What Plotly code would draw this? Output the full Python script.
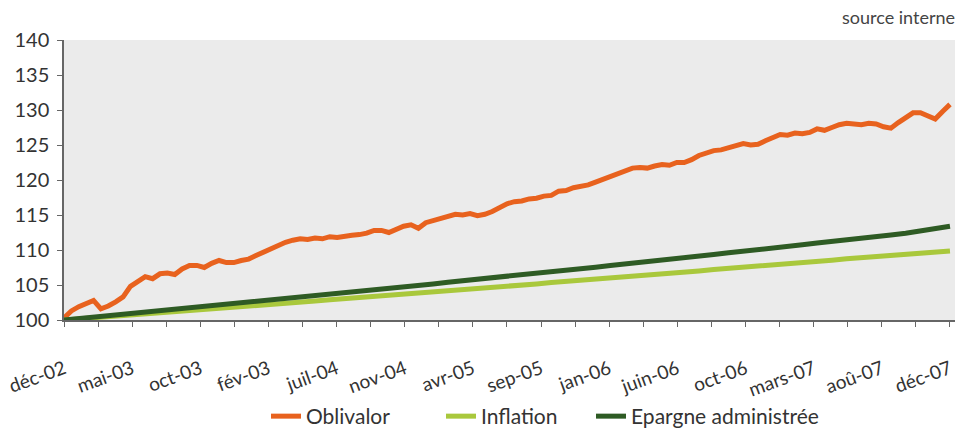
import plotly.graph_objects as go

# Tick labels (as printed on the original chart)
tick_labels = ["déc-02", "mai-03", "oct-03", "fév-03", "juil-04", "nov-04", "avr-05",
               "sep-05", "jan-06", "juin-06", "oct-06", "mars-07", "aoû-07", "déc-07"]

# Oblivalor, half-month readings from déc-02 (index 0) to déc-07 (index 120)
oblivalor = [
    100.3, 101.3, 101.9, 102.3, 102.8, 101.6, 102.0, 102.6, 103.3, 104.8,
    105.5, 106.2, 105.9, 106.6, 106.7, 106.5, 107.3, 107.8, 107.8, 107.5,
    108.1, 108.5, 108.2, 108.2, 108.5, 108.7, 109.2, 109.7, 110.2, 110.7,
    111.1, 111.4, 111.6, 111.5, 111.7, 111.6, 111.9, 111.8, 112.0, 112.1,
    112.2, 112.4, 112.8, 112.8, 112.5, 113.0, 113.4, 113.6, 113.1, 113.9,
    114.2, 114.4, 114.7, 115.1, 115.0, 115.2, 114.9, 115.1, 115.5, 116.0,
    116.6, 116.9, 117.0, 117.3, 117.4, 117.7, 117.8, 118.4, 118.5, 118.9,
    119.1, 119.3, 119.7, 120.1, 120.4, 120.8, 121.3, 121.7, 121.8, 121.7,
    122.0, 122.2, 122.1, 122.5, 122.5, 122.9, 123.5, 123.9, 124.2, 124.3,
    124.6, 124.9, 125.2, 125.0, 125.1, 125.6, 126.1, 126.5, 126.4, 126.7,
    126.6, 126.8, 127.3, 127.1, 127.5, 127.9, 128.1, 128.0, 127.9, 128.1,
    128.0, 127.6, 127.4, 128.2, 128.9, 129.6, 129.6, 129.2, 128.7, 129.8,
    130.8,
]

# Inflation, monthly readings (index 0 = déc-02, 60 = déc-07)
inflation = [
    100.0, 100.15, 100.3, 100.5, 100.65, 100.8, 100.95, 101.1, 101.3, 101.45,
    101.6, 101.75, 101.9, 102.1, 102.25, 102.4, 102.55, 102.7, 102.9, 103.05,
    103.2, 103.35, 103.5, 103.7, 103.85, 104.0, 104.15, 104.35, 104.5, 104.65,
    104.85, 105.0, 105.15, 105.35, 105.5, 105.65, 105.85, 106.0, 106.15, 106.35,
    106.5, 106.7, 106.85, 107.0, 107.2, 107.35, 107.55, 107.7, 107.85, 108.05,
    108.2, 108.4, 108.55, 108.75, 108.9, 109.05, 109.25, 109.4, 109.55, 109.7,
    109.85,
]

# Epargne administrée, monthly readings
epargne = [
    100.0, 100.2, 100.4, 100.6, 100.8, 101.0, 101.2, 101.4, 101.6, 101.8,
    102.05, 102.25, 102.45, 102.65, 102.85, 103.05, 103.25, 103.5, 103.7, 103.9,
    104.1, 104.3, 104.55, 104.75, 104.95, 105.15, 105.4, 105.6, 105.8, 106.05,
    106.25, 106.45, 106.7, 106.9, 107.1, 107.35, 107.55, 107.8, 108.0, 108.25,
    108.45, 108.7, 108.9, 109.15, 109.35, 109.6, 109.8, 110.05, 110.3, 110.5,
    110.75, 111.0, 111.2, 111.45, 111.7, 111.9, 112.15, 112.4, 112.7, 113.0,
    113.4,
]

n_months = 60
x_obl = [k * 0.5 for k in range(len(oblivalor))]
x_month = list(range(len(inflation)))

# ticks: 27 marks over 60 months, labels on every other mark
n_ticks = 2 * (len(tick_labels) - 1)
tickvals = [i * n_months / n_ticks for i in range(n_ticks + 1)]
ticktext = []
for i in range(n_ticks + 1):
    ticktext.append(tick_labels[i // 2] if i % 2 == 0 else "")

FONT = "Lato, 'Open Sans', sans-serif"

fig = go.Figure()
fig.add_trace(go.Scatter(x=x_obl, y=oblivalor, mode="lines", name="Oblivalor",
                         line=dict(color="#E8621E", width=5), legend="legend"))
fig.add_trace(go.Scatter(x=x_month, y=inflation, mode="lines", name="Inflation",
                         line=dict(color="#A9C83C", width=5), legend="legend2"))
fig.add_trace(go.Scatter(x=x_month, y=epargne, mode="lines", name="Epargne administrée",
                         line=dict(color="#2E5B24", width=5), legend="legend3"))


def leg(xpos):
    return dict(orientation="h", x=xpos, xanchor="left",
                yref="container", y=0.0, yanchor="bottom",
                font=dict(size=21, color="#333333"), bgcolor="rgba(0,0,0,0)")


fig.update_layout(
    width=964, height=437,
    margin=dict(l=64, r=9, t=40, b=117),
    paper_bgcolor="white",
    plot_bgcolor="#EBEBEB",
    font=dict(family=FONT, color="#333333", size=16),
    showlegend=True,
    legend=leg(0.2267),
    legend2=leg(0.4231),
    legend3=leg(0.5915),
    xaxis=dict(range=[0, 60.34], tickmode="array", tickvals=tickvals, ticktext=ticktext,
               tickangle=-20, showgrid=False, zeroline=False, showline=True,
               linecolor="#666666", linewidth=1.5, ticks="outside", ticklen=5,
               tickcolor="#666666", tickfont=dict(size=19, color="#333333"),
               automargin=False, ticklabelstandoff=24),
    yaxis=dict(range=[100, 140], tickmode="linear", tick0=100, dtick=5,
               showgrid=False, zeroline=False, showline=True, linecolor="#666666",
               linewidth=1.5, ticks="outside", ticklen=5, tickcolor="#666666",
               tickfont=dict(size=20, color="#333333"), automargin=False,
               ticklabelstandoff=4),
    annotations=[dict(text="source interne", xref="paper", yref="paper", x=1.0, y=1.0,
                      xanchor="right", yanchor="middle", xshift=2, yshift=23,
                      showarrow=False, font=dict(size=18, color="#444444"))],
)

fig.write_html("out.html", config={"displayModeBar": False},
               post_script="document.body.style.margin='0';document.body.style.padding='0';")
